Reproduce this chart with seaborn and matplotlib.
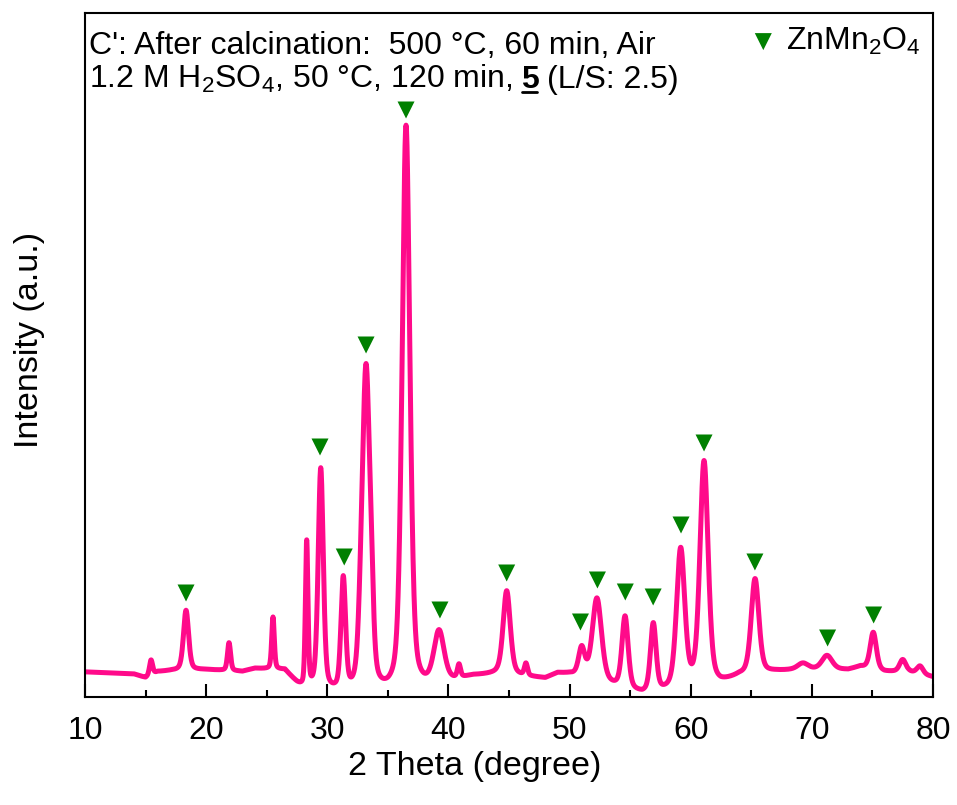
import numpy as np
import pandas as pd
import matplotlib
matplotlib.use("Agg")
import matplotlib.pyplot as plt
import seaborn as sns
from matplotlib.lines import Line2D
from matplotlib.transforms import IdentityTransform

# ---- data (intensity in arbitrary units) ----
peak_pos = [15.45, 18.34, 21.89, 25.52, 28.30, 29.46, 31.32, 32.75, 33.20, 33.65, 36.50,
            39.22, 40.87, 44.81, 46.40, 51.00, 52.26, 54.58, 56.91, 59.17, 61.10,
            65.31, 69.27, 71.25, 75.07, 77.50, 78.93]
peak_amp = [15, 60, 28, 52, 146, 222, 112, 25, 322, 40, 566,
            52, 13, 84, 12, 28, 83, 72, 68, 139, 224,
            95, 6, 14, 37, 12, 8]
peak_fwhm = [0.30, 0.50, 0.30, 0.25, 0.25, 0.50, 0.45, 0.50, 0.75, 0.40, 0.75,
             1.00, 0.30, 0.70, 0.30, 0.60, 0.90, 0.60, 0.55, 0.80, 0.80,
             0.75, 1.00, 1.00, 0.60, 0.60, 0.60]

bg_x = [10, 12, 14, 15, 16, 17, 20, 23, 24, 26.5, 27.5, 28, 32, 35, 38, 42, 44,
        47, 48, 49, 50, 53.5, 56, 58, 62.5, 64, 67, 69, 73, 74, 76, 78, 80]
bg_y = [25, 24, 23, 19, 25, 26, 27, 25, 28, 26, 12, 6, 0, 0, 6, 20, 22,
        19, 18, 23, 22, 10, 2, 4, 12, 20, 25, 27, 27, 30, 25, 25, 20]

tri_x = [18.34, 29.40, 31.40, 33.20, 36.50, 39.30, 44.81, 50.90, 52.30, 54.60,
         56.90, 59.20, 61.10, 65.30, 71.30, 75.10]
tri_y = [104, 250, 140, 352, 587, 87, 124, 75, 117, 105,
         100, 172, 254, 135, 59, 82]

phase_label = "ZnMn$_2$O$_4$"

# ---- build the pattern from the peak table ----
two_theta = np.arange(10, 80.001, 0.02)
intensity = np.interp(two_theta, bg_x, bg_y).astype(float)
eta = 0.4
for p, a, w in zip(peak_pos, peak_amp, peak_fwhm):
    g = np.exp(-4 * np.log(2) * ((two_theta - p) / w) ** 2)
    l = 1.0 / (1 + 4 * ((two_theta - p) / w) ** 2)
    intensity += a * (eta * l + (1 - eta) * g)

df = pd.DataFrame({"2theta": two_theta, "I": intensity})
tri = pd.DataFrame({"x": tri_x, "y": tri_y, "phase": phase_label})

# ---- style ----
sns.set_style("ticks")
plt.rcParams["font.family"] = ["Liberation Sans", "DejaVu Sans"]
plt.rcParams["mathtext.fontset"] = "custom"
plt.rcParams["mathtext.rm"] = "Liberation Sans"
plt.rcParams["mathtext.it"] = "Liberation Sans:italic"
plt.rcParams["mathtext.bf"] = "Liberation Sans:bold"
for k in ["text.color", "axes.labelcolor", "xtick.color", "ytick.color",
          "xtick.labelcolor", "ytick.labelcolor"]:
    plt.rcParams[k] = "black"

W, H = 957, 805
fig = plt.figure(figsize=(W / 100, H / 100), dpi=100)
ax = fig.add_axes([85 / W, 1 - 697 / H, (933 - 85) / W, (697 - 13) / H])

pink = "#FF0A8A"
green = "#008000"
sns.lineplot(data=df, x="2theta", y="I", ax=ax, color=pink, lw=3.6, legend=False)
sns.scatterplot(data=tri, x="x", y="y", ax=ax, marker="v", color=green, s=150,
                edgecolor="none", label=phase_label, zorder=5)

ax.set_xlim(10, 80)
ax.set_ylim(0, 684)
ax.set_xticks(np.arange(10, 81, 10))
ax.set_xticks(np.arange(15, 80, 10), minor=True)
ax.set_yticks([])
ax.tick_params(axis="x", which="major", direction="in", length=9.5, width=1.5,
               labelsize=23, pad=14, color="black", labelcolor="black")
ax.tick_params(axis="x", which="minor", direction="in", length=5, width=1.5, color="black")
for s in ax.spines.values():
    s.set_visible(True)
    s.set_linewidth(1.5)
    s.set_color("black")
ax.set_xlabel("")
ax.set_ylabel("")

fig.text(475 / W, 1 - 766 / H, "2 Theta (degree)", ha="center", va="center", fontsize=24.5)
fig.text(30 / W, 1 - 340 / H, "Intensity (a.u.)", ha="center", va="center",
         rotation=90, fontsize=24.5)

leg = ax.legend(loc="upper right", bbox_to_anchor=(920 / W, 1 - 26 / H),
                bbox_transform=fig.transFigure, frameon=False, fontsize=23,
                handlelength=0.6, handletextpad=0.4, borderpad=0, borderaxespad=0)

# annotation text
fs = 23
ax.text(89 / W, 1 - 54 / H, "C': After calcination:  500 °C, 60 min, Air",
        transform=fig.transFigure, fontsize=fs, va="baseline", ha="left")
t1 = ax.text(89 / W, 1 - 88 / H, "1.2 M H$_2$SO$_4$, 50 °C, 120 min,",
             transform=fig.transFigure, fontsize=fs, va="baseline", ha="left")
t2 = ax.annotate("5", xy=(1.0, 1 - 88 / H), xycoords=(t1, fig.transFigure),
                 xytext=(6, 0), textcoords="offset points",
                 fontsize=fs, fontweight="bold", va="baseline", ha="left")
t3 = ax.annotate("(L/S: 2.5)", xy=(1.0, 1 - 88 / H), xycoords=(t2, fig.transFigure),
                 xytext=(6, 0), textcoords="offset points",
                 fontsize=fs, va="baseline", ha="left")
fig.canvas.draw()
bb = t2.get_window_extent()
fig.add_artist(Line2D([bb.x0 + 1, bb.x1 - 1], [H - 92, H - 92], transform=IdentityTransform(),
                      color="black", lw=2))

fig.savefig("out.png", dpi=100)
